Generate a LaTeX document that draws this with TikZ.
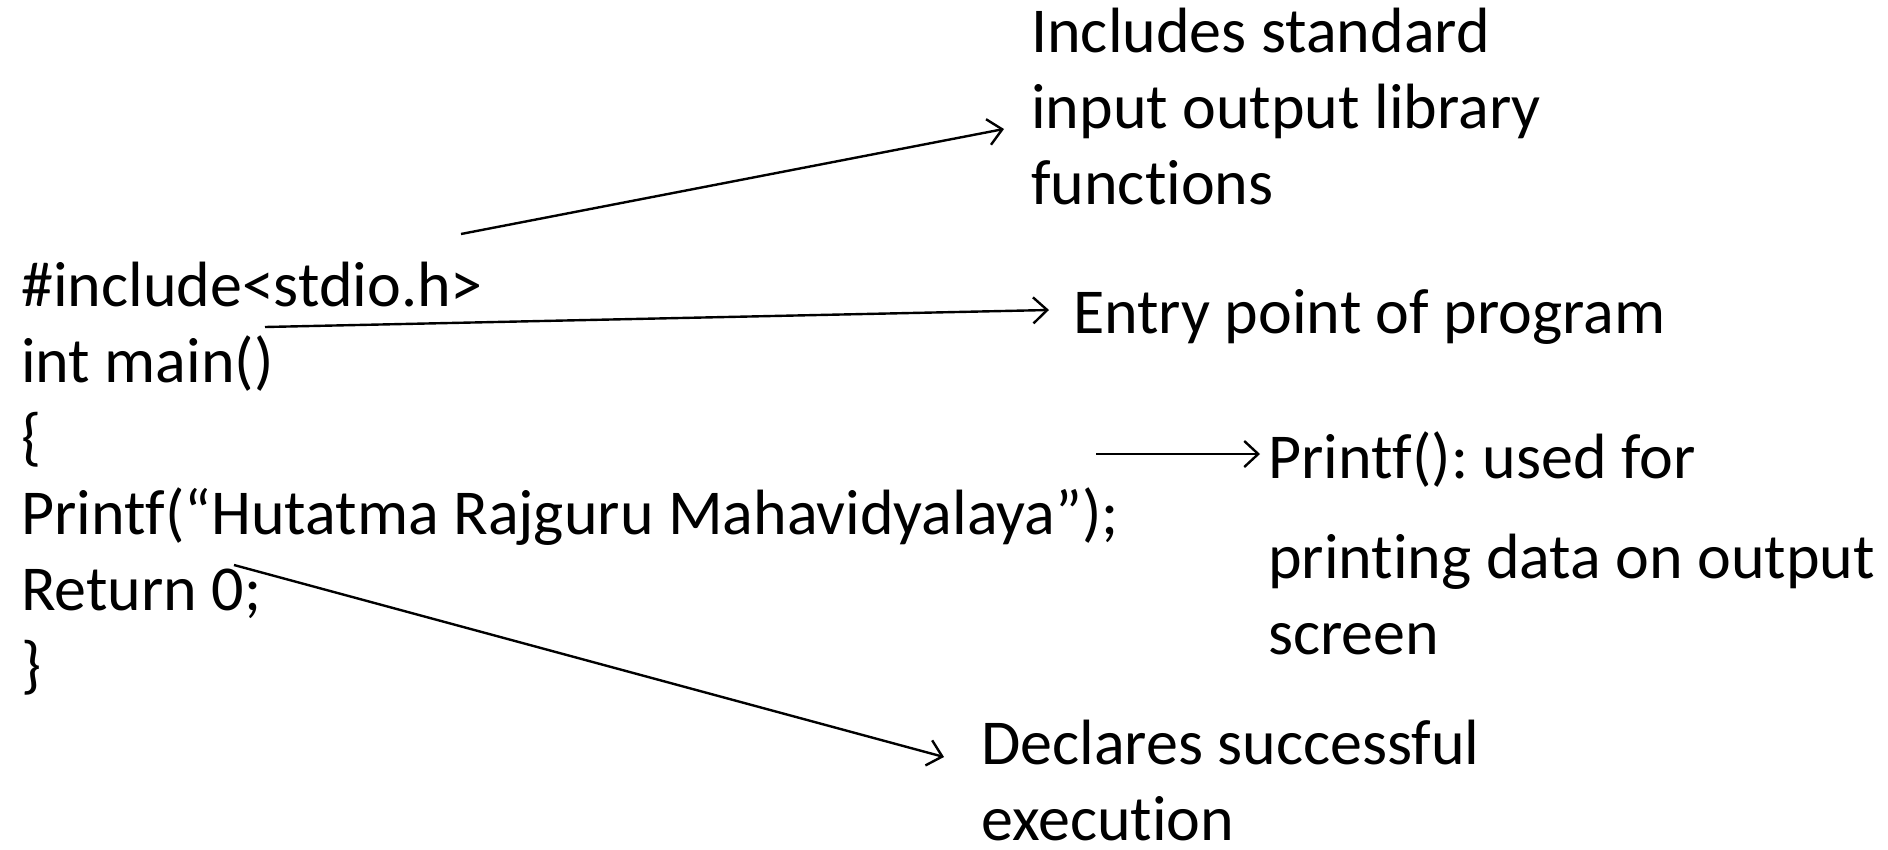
\documentclass[tikz,border=0pt]{standalone}
\usepackage{fontspec}
\setmainfont{Carlito}[Ligatures=NoCommon]
\usetikzlibrary{arrows.meta}
\frenchspacing
\begin{document}
\begin{tikzpicture}[x=1pt,y=-1pt,
  txt/.style={anchor=base west,inner sep=0pt,align=left,font=\fontsize{64}{76}\selectfont},
  arr/.style={-{Straight Barb[length=14pt,width=26pt,line width=2.4pt]},line width=2.4pt}]
\useasboundingbox (0,0) rectangle (1888,849);
% base anchor of a multi-line node is the baseline of its last line
\node[txt] (code) at (21,686) {\#include<stdio.h>\\int main()\\\{\\Printf(“Hutatma Rajguru Mahavidyalaya”);\\Return 0;\\\}};
\node[txt] (inc) at (1031,204) {Includes standard\\input output library\\functions};
\node[txt] (entry) at (1073,333) {Entry point of program};
\node[txt] (pf) at (1268,654) {Printf(): used for\\[24pt]printing data on output\\screen};
\node[txt] (decl) at (981,840) {Declares successful\\execution};
\coordinate (a1s) at (461,234); \coordinate (a1e) at (1004,129);
\coordinate (a2s) at (265,327); \coordinate (a2e) at (1049,310);
\coordinate (a3s) at (1096,454); \coordinate (a3e) at (1260,454);
\coordinate (a4s) at (234,565); \coordinate (a4e) at (944,757);
\draw[arr] (a1s) -- (a1e);
\draw[arr] (a2s) -- (a2e);
\draw[arr] (a3s) -- (a3e);
\draw[arr] (a4s) -- (a4e);
\end{tikzpicture}
\end{document}
